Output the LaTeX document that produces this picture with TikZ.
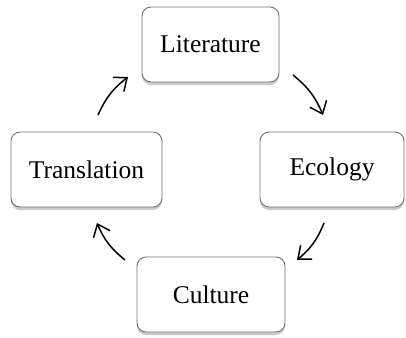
\documentclass[tikz,border=0pt]{standalone}
\usepackage{fontspec}
\setmainfont{Liberation Serif}
\usetikzlibrary{arrows.meta,shadows}
\begin{document}
\begin{tikzpicture}[x=1pt,y=-1pt,
  box/.style={draw=black!55, line width=0.9pt, rounded corners=9pt, fill=white,
    minimum height=75pt, inner sep=0pt, font=\fontsize{25.5}{30}\selectfont,
    drop shadow={shadow xshift=0pt, shadow yshift=-3pt, opacity=0.35, fill=black!60}},
  cyc/.style={line width=1.5pt, -{Straight Barb[length=11pt,width=18pt,line width=1.5pt]}, bend left=14}]
\useasboundingbox (0,0) rectangle (406,337);
\node[box, minimum width=137pt] (lit) at (210.5,44.5) {Literature};
\node[box, minimum width=151pt] (tra) at (86.5,169.5) {Translation};
\node[box, minimum width=144pt] (eco) at (332,169.5) {Ecology};
\node[box, minimum width=148pt] (cul) at (211,294.5) {Culture};
\coordinate (a1) at (293,75);  \coordinate (a2) at (323,115);
\coordinate (b1) at (324,223); \coordinate (b2) at (297,260);
\coordinate (c1) at (125,260); \coordinate (c2) at (97,223);
\coordinate (d1) at (98,115);  \coordinate (d2) at (128,77);
\draw[cyc] (a1) to (a2);
\draw[cyc] (b1) to (b2);
\draw[cyc] (c1) to (c2);
\draw[cyc] (d1) to (d2);
\end{tikzpicture}
\end{document}
